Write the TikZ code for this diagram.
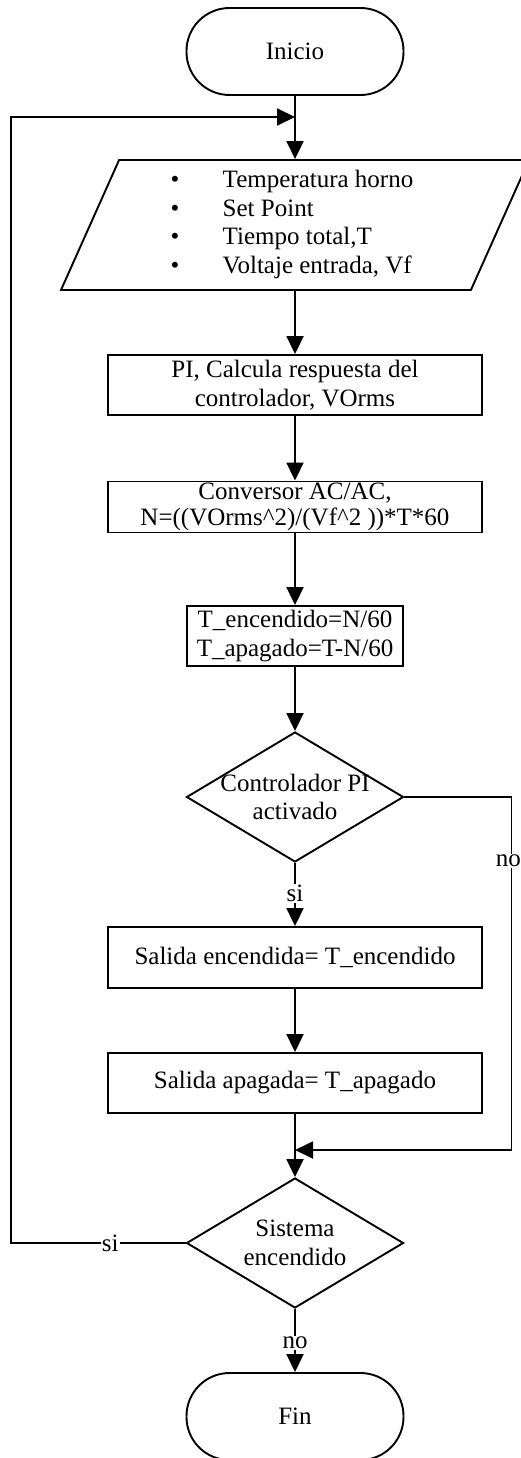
\documentclass[tikz,border=0pt]{standalone}
\usepackage{fontspec}
\setmainfont{Liberation Serif}
\usetikzlibrary{shapes.geometric,arrows.meta}
\tikzset{
  terminal/.style={draw,line width=1.9pt,rounded corners=43pt,minimum width=217pt,minimum height=87pt},
  entradas/.style={draw,line width=1.9pt,trapezium,trapezium left angle=63.4,trapezium right angle=116.6,
    trapezium stretches body,minimum width=468pt,minimum height=130pt,inner sep=1pt},
  proceso/.style={draw,line width=1.9pt,minimum width=374pt,align=center,inner sep=0pt},
  decision/.style={draw,line width=1.9pt,diamond,minimum width=217pt,minimum height=130pt,inner sep=0pt},
  flecha/.style={line width=1.9pt,-{Triangle[length=18pt,width=17pt]}},
  etiqueta/.style={fill=white,inner sep=1pt}
}
\begin{document}
\begin{tikzpicture}[x=1pt,y=-1pt,font=\fontsize{25}{28.5}\selectfont]
    \useasboundingbox (0,0) rectangle (520,1458);
    \node[terminal] (inicio) at (295,51.5) {Inicio};
    \node[entradas] (entrada) at (295,225) {\begin{tabular}{@{}l@{}l@{\hspace{6pt}}}
        \makebox[52pt][l]{\textbullet} & Temperatura horno\\
        \makebox[52pt][l]{\textbullet} & Set Point\\
        \makebox[52pt][l]{\textbullet} & Tiempo total,T\\
        \makebox[52pt][l]{\textbullet} & Voltaje entrada, Vf
      \end{tabular}};
    \node[proceso,minimum height=60pt] (pi) at (295,385) {PI, Calcula respuesta del\\controlador, VOrms};
    \node[proceso,minimum height=51pt,font=\fontsize{25}{26.5}\selectfont] (conv) at (295,507) {Conversor AC/AC,\\N=((VOrms\textasciicircum2)/(Vf\textasciicircum2 ))*T*60};
    \node[proceso,minimum width=216pt,minimum height=60pt] (tiempos) at (295,636) {T\_encendido=N/60\\T\_apagado=T-N/60};
    \node[decision,label={[align=center]center:Controlador PI\\activado}] (d1) at (295,797) {};
    \node[proceso,minimum height=61pt] (salon) at (295,957.5) {Salida encendida= T\_encendido};
    \node[proceso,minimum height=60pt] (saloff) at (295,1083) {Salida apagada= T\_apagado};
    \node[decision,label={[align=center]center:Sistema\\encendido}] (d2) at (295,1243) {};
    \node[terminal] (fin) at (295,1416.5) {Fin};
    \coordinate (retorno) at (295,117);
    \coordinate (union) at (295,1150);
    % flujo principal
    \draw[flecha] (inicio) -- (entrada);
    \draw[flecha] (entrada) -- (pi);
    \draw[flecha] (pi) -- (conv);
    \draw[flecha] (conv) -- (tiempos);
    \draw[flecha] (tiempos) -- (d1);
    \draw[flecha] (d1) -- node[etiqueta,pos=0.48] {si} (salon);
    \draw[flecha] (salon) -- (saloff);
    \draw[flecha] (saloff) -- (d2);
    \draw[flecha] (d2) -- node[etiqueta,pos=0.54] {no} (fin);
    % ramas
    \draw[flecha] (d1.east) -- ++(107,0) -- node[etiqueta,pos=0.18,xshift=-3pt] {no} ++(0,353) -- (union);
    \draw[flecha] (d2.west) -- node[etiqueta,pos=0.43] {si} ++(-175,0) |- (retorno);
\end{tikzpicture}
\end{document}
